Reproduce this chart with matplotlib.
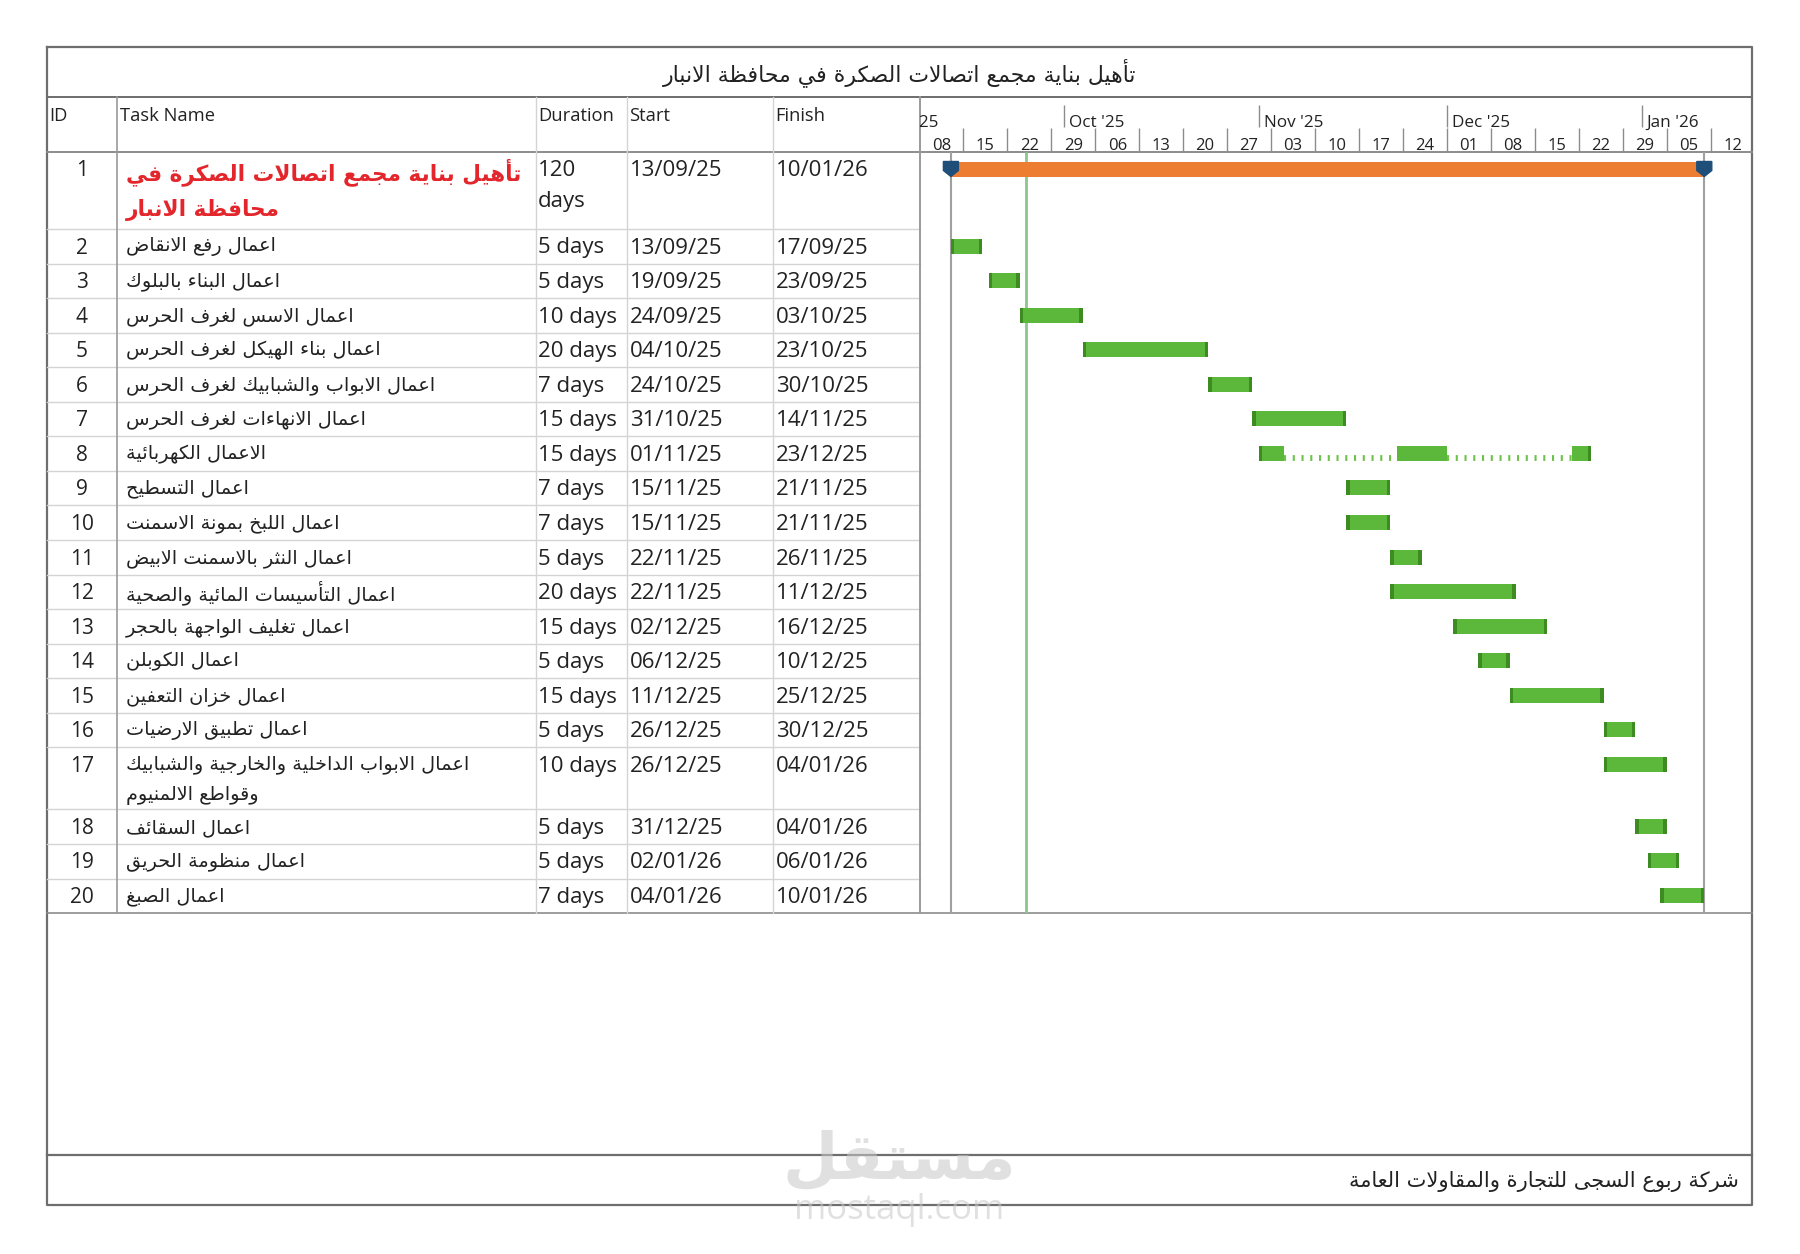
import datetime as dt
import matplotlib
matplotlib.use("Agg")
import matplotlib.pyplot as plt
import matplotlib.dates as mdates
from matplotlib.patches import Polygon

plt.rcParams['font.family'] = ['Open Sans', 'DejaVu Sans']
plt.rcParams['lines.scale_dashes'] = False

# ---- data ----
title = "تأهيل بناية مجمع اتصالات الصكرة في محافظة الانبار"
company = "شركة ربوع السجى للتجارة والمقاولات العامة"
col_headers = ["ID", "Task Name", "Duration", "Start", "Finish"]

task_ids = list(range(1, 21))
task_names = [
    "تأهيل بناية مجمع اتصالات الصكرة في\nمحافظة الانبار",
    "اعمال رفع الانقاض",
    "اعمال البناء بالبلوك",
    "اعمال الاسس لغرف الحرس",
    "اعمال بناء الهيكل لغرف الحرس",
    "اعمال الابواب والشبابيك لغرف الحرس",
    "اعمال الانهاءات لغرف الحرس",
    "الاعمال الكهربائية",
    "اعمال التسطيح",
    "اعمال اللبخ بمونة الاسمنت",
    "اعمال النثر بالاسمنت الابيض",
    "اعمال التأسيسات المائية والصحية",
    "اعمال تغليف الواجهة بالحجر",
    "اعمال الكوبلن",
    "اعمال خزان التعفين",
    "اعمال تطبيق الارضيات",
    "اعمال الابواب الداخلية والخارجية والشبابيك\nوقواطع الالمنيوم",
    "اعمال السقائف",
    "اعمال منظومة الحريق",
    "اعمال الصبغ",
]
durations = ["120\ndays", "5 days", "5 days", "10 days", "20 days", "7 days", "15 days",
             "15 days", "7 days", "7 days", "5 days", "20 days", "15 days", "5 days",
             "15 days", "5 days", "10 days", "5 days", "5 days", "7 days"]
starts = ["13/09/25", "13/09/25", "19/09/25", "24/09/25", "04/10/25", "24/10/25", "31/10/25",
          "01/11/25", "15/11/25", "15/11/25", "22/11/25", "22/11/25", "02/12/25", "06/12/25",
          "11/12/25", "26/12/25", "26/12/25", "31/12/25", "02/01/26", "04/01/26"]
finishes = ["10/01/26", "17/09/25", "23/09/25", "03/10/25", "23/10/25", "30/10/25", "14/11/25",
            "23/12/25", "21/11/25", "21/11/25", "26/11/25", "11/12/25", "16/12/25", "10/12/25",
            "25/12/25", "30/12/25", "04/01/26", "04/01/26", "06/01/26", "10/01/26"]
# task 8 is split into three pieces
split_task = 8
split_parts = [("01/11/25", "04/11/25"), ("23/11/25", "30/11/25"), ("21/12/25", "23/12/25")]
status_date = "25/09/25"
view_start = "08/09/25"
view_end = "18/01/26"

# ---- arabic shaping (matplotlib has no bidi / joining) ----
AR_LETTERS = "ءآأؤإئابةتثجحخدذرزسشصضطظعغفقكلمنهوىي"
AR_NFORMS = [1, 2, 2, 2, 2, 4, 2, 4, 2, 4, 4, 4, 4, 4, 2, 2, 2, 2,
             4, 4, 4, 4, 4, 4, 4, 4, 4, 4, 4, 4, 4, 4, 4, 2, 2, 4]
FORMS = {}
code = 0xFE80
for ch, nf in zip(AR_LETTERS, AR_NFORMS):
    FORMS[ch] = (code, nf)
    code += nf
LAMALEF = {"آ": 0xFEF5, "أ": 0xFEF7, "إ": 0xFEF9, "ا": 0xFEFB}


def shape(text):
    out = []
    for line in text.split("\n"):
        res = []
        prev_joins = False
        i = 0
        while i < len(line):
            c = line[i]
            if c not in FORMS:
                res.append(c)
                prev_joins = False
                i += 1
                continue
            base, nf = FORMS[c]
            if c == "ل" and i + 1 < len(line) and line[i + 1] in LAMALEF:
                lig = LAMALEF[line[i + 1]]
                res.append(chr(lig + 1 if prev_joins else lig))
                prev_joins = False
                i += 2
                continue
            nxt = line[i + 1] if i + 1 < len(line) else None
            to_next = nf == 4 and nxt in FORMS and FORMS[nxt][1] > 1
            if nf == 1:
                g = base
            elif prev_joins and to_next:
                g = base + 3
            elif prev_joins:
                g = base + 1
            elif to_next:
                g = base + 2
            else:
                g = base
            res.append(chr(g))
            prev_joins = nf == 4
            i += 1
        out.append("".join(reversed(res)).strip())
    return out


def d(s):
    return mdates.date2num(dt.datetime.strptime(s, "%d/%m/%y"))


# ---- layout (pixels) ----
W, H = 1800, 1254
L, R, T, B = 47, 1752, 47, 1205
TITLE_B, HEAD_B, TABLE_B, FOOT_T = 96.5, 152, 913, 1155
COLS = [117, 536, 627, 773]
GX0 = 919.5
row_h = [77] + [34.56] * 15 + [62] + [34.56] * 3
row_tops = [HEAD_B]
for h in row_h[:-1]:
    row_tops.append(row_tops[-1] + h)

fig = plt.figure(figsize=(18, 12.54), dpi=100)
tab = fig.add_axes([0, 0, 1, 1])
tab.set_xlim(0, W)
tab.set_ylim(H, 0)
tab.axis("off")

dark = "#6e6e6e"
light = "#d4d4d4"
# outer frame and big horizontal rules
tab.plot([L, R, R, L, L], [T, T, B, B, T], color=dark, lw=1.6)
tab.plot([L, R], [TITLE_B, TITLE_B], color=dark, lw=1.4)
tab.plot([L, R], [HEAD_B, HEAD_B], color="#8c8c8c", lw=1.4)
tab.plot([L, R], [TABLE_B, TABLE_B], color="#8c8c8c", lw=1.2)
tab.plot([L, R], [FOOT_T, FOOT_T], color=dark, lw=1.6)
# row lines in table
for y in row_tops[1:]:
    tab.plot([L, GX0], [y, y], color=light, lw=1.0)
# column lines
tab.plot([COLS[0]] * 2, [TITLE_B, TABLE_B], color="#9a9a9a", lw=1.2)
for x in COLS[1:]:
    tab.plot([x, x], [TITLE_B, TABLE_B], color=light, lw=1.0)
tab.plot([GX0, GX0], [TITLE_B, TABLE_B], color="#9a9a9a", lw=1.4)

# title and footer
tab.text((L + R) / 2, 73, shape(title)[0], ha="center", va="center",
         fontsize=15.8, family="DejaVu Sans", color="#222222")
tab.text(R - 13, 1182, shape(company)[0], ha="right", va="center",
         fontsize=15.1, family="DejaVu Sans", color="#222222")

# watermark
tab.text(899, 1160, shape("مستقل")[0], ha="center", va="center", fontsize=46,
         fontweight="bold", family="DejaVu Sans", color="#c8c8c8", alpha=0.55, zorder=5)
tab.text(899, 1210, "mostaql.com", ha="center", va="center", fontsize=25,
         color="#c8c8c8", alpha=0.55, zorder=5)

# column headers
head_x = [49, 120, 538, 629, 775]
for hx, txt in zip(head_x, col_headers):
    tab.text(hx, 116, txt, ha="left", va="center", fontsize=13.2, color="#222222")

# table body
txt_col = "#222222"
for i, tid in enumerate(task_ids):
    top = row_tops[i]
    y0 = top + 19
    tab.text(82, y0, str(tid), ha="center", va="center", fontsize=15, color=txt_col)
    if i == 0:
        for k, ln in enumerate(shape(task_names[i])):
            tab.text(126, y0 + 1 + k * 38, ln, ha="left", va="center", fontsize=15.6,
                     fontweight="bold", family="DejaVu Sans", color="#e3262c")
    else:
        for k, ln in enumerate(shape(task_names[i])):
            tab.text(126, y0 - 1 + k * 30, ln, ha="left", va="center", fontsize=13.9,
                     family="DejaVu Sans", color=txt_col)
    for k, ln in enumerate(durations[i].split("\n")):
        tab.text(538, y0 + k * 31, ln, ha="left", va="center", fontsize=16, color=txt_col)
    tab.text(630, y0, starts[i], ha="left", va="center", fontsize=16, color=txt_col)
    tab.text(776, y0, finishes[i], ha="left", va="center", fontsize=16, color=txt_col)

# ---- gantt timescale ----
x0, x1 = d(view_start), d(view_end) + 0.6
gw = R - GX0
hdr = fig.add_axes([GX0 / W, 1 - HEAD_B / H, gw / W, (HEAD_B - TITLE_B) / H])
hdr.set_xlim(x0, x1)
hdr.set_ylim(0, 1)
hdr.axis("off")
hdr.patch.set_alpha(0)

weeks = mdates.WeekdayLocator(byweekday=mdates.MO).tick_values(
    mdates.num2date(x0 - 7), mdates.num2date(x1))
months = mdates.MonthLocator().tick_values(mdates.num2date(x0 - 40), mdates.num2date(x1))
px_day = gw / (x1 - x0)
for w in weeks:
    if x0 < w < x1:
        hdr.vlines(w, 0, 0.43, color="#8c8c8c", lw=1.0)
    if w + 3.5 < x1:
        hdr.text(w + 3.5, 0.1, mdates.num2date(w).strftime("%d"), ha="center", va="center",
                 fontsize=12, color="#222222", clip_on=True)
for m in months:
    if x0 < m < x1:
        hdr.vlines(m, 0.45, 0.85, color="#8c8c8c", lw=1.0)
    if m + 5 / px_day < x1 - 5:
        hdr.text(m + 5 / px_day, 0.53, mdates.num2date(m).strftime("%b '%y"), ha="left",
                 va="center", fontsize=12.3, color="#222222", clip_on=True)

# ---- gantt body ----
ax = fig.add_axes([GX0 / W, 1 - TABLE_B / H, gw / W, (TABLE_B - HEAD_B) / H])
ax.set_xlim(x0, x1)
ax.set_ylim(TABLE_B, HEAD_B)
ax.axis("off")
ax.patch.set_alpha(0)

p_start, p_end = d(starts[0]), d(finishes[0]) + 1
ax.vlines([p_start, p_end], HEAD_B, TABLE_B, color="#a0a0a0", lw=1.5, zorder=1)
ax.vlines(d(status_date), HEAD_B, TABLE_B, color="#8cc78c", lw=2.0, zorder=1)

bar_h = 15
cap = 3.5 / px_day
green, green_dark = "#5cb83a", "#3d8c22"

# summary bar with blue markers
yc = row_tops[0] + 17
ax.barh(yc, p_end - p_start, left=p_start, height=bar_h, color="#ed7d31", zorder=3)
hw = 7.5 / px_day
for xm in (p_start, p_end):
    ax.add_patch(Polygon([(xm - hw, yc - 7.5), (xm + hw, yc - 7.5), (xm + hw, yc + 1.5),
                          (xm, yc + 7.5), (xm - hw, yc + 1.5)],
                         closed=True, color="#1f4e79", zorder=4))

for i in range(1, len(task_ids)):
    yc = row_tops[i] + 17
    s, f = d(starts[i]), d(finishes[i]) + 1
    if task_ids[i] == split_task:
        parts = [(d(a), d(b) + 1) for a, b in split_parts]
        for (a0, a1), (b0, b1) in zip(parts[:-1], parts[1:]):
            ax.plot([a1, b0], [yc + 4.5, yc + 4.5], color="#6cc24a", lw=4.2,
                    linestyle=(0, (1.5, 4.8)), solid_capstyle="butt", zorder=2)
        for a, b in parts:
            ax.barh(yc, b - a, left=a, height=bar_h, color=green, zorder=3)
    else:
        ax.barh(yc, f - s, left=s, height=bar_h, color=green, zorder=3)
    ax.barh(yc, cap, left=s, height=bar_h, color=green_dark, zorder=4)
    ax.barh(yc, cap, left=f - cap, height=bar_h, color=green_dark, zorder=4)

fig.savefig("out.png", dpi=100)
